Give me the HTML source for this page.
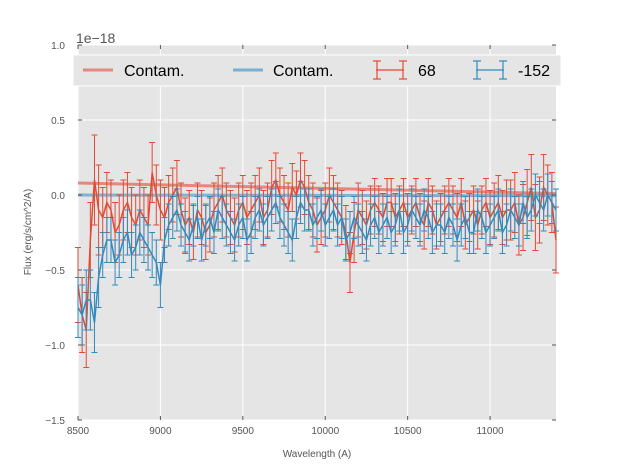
<!DOCTYPE html>
<html><head><meta charset="utf-8"><style>
body{margin:0;background:#fff}
svg text{font-family:"Liberation Sans","DejaVu Sans",sans-serif}
</style></head><body>
<svg id="c" width="617" height="467" xmlns="http://www.w3.org/2000/svg">
<rect x="78" y="45" width="478" height="375" fill="#e5e5e5"/>
<g id="grid"></g>
<g id="series"></g>
<g id="axes"></g>
<text x="76" y="43" font-size="14" fill="#555">1e−18</text>
<text x="317" y="457" font-size="10" fill="#555" text-anchor="middle">Wavelength (A)</text>
<text transform="translate(31,232) rotate(-90)" font-size="10" fill="#555" text-anchor="middle">Flux (erg/s/cm^2/A)</text>
<g>
<rect x="73" y="55" width="488" height="31" fill="#e5e5e5" stroke="#fff" stroke-width="1"/>
<line x1="83" y1="70" x2="113" y2="70" stroke="#e24a33" stroke-opacity="0.6" stroke-width="3"/>
<text x="124" y="76" font-size="16" fill="#000">Contam.</text>
<line x1="233" y1="70" x2="263" y2="70" stroke="#348abd" stroke-opacity="0.6" stroke-width="3"/>
<text x="273" y="76" font-size="16" fill="#000">Contam.</text>
<g stroke="#e24a33" stroke-width="1.2"><line x1="376" y1="70" x2="404" y2="70"/><line x1="377" y1="61" x2="377" y2="79"/><line x1="403" y1="61" x2="403" y2="79"/><line x1="373" y1="61" x2="381" y2="61"/><line x1="373" y1="79" x2="381" y2="79"/><line x1="399" y1="61" x2="407" y2="61"/><line x1="399" y1="79" x2="407" y2="79"/></g>
<text x="418" y="76" font-size="16" fill="#000">68</text>
<g stroke="#348abd" stroke-width="1.2"><line x1="476" y1="70" x2="504" y2="70"/><line x1="477" y1="61" x2="477" y2="79"/><line x1="503" y1="61" x2="503" y2="79"/><line x1="473" y1="61" x2="481" y2="61"/><line x1="473" y1="79" x2="481" y2="79"/><line x1="499" y1="61" x2="507" y2="61"/><line x1="499" y1="79" x2="507" y2="79"/></g>
<text x="518" y="76" font-size="16" fill="#000">-152</text>
</g>
</svg>
<script>
const waveStart=8500;
const waveEnd=11400;
const flux68=[-0.6,-0.8,-0.9,-0.3,0.1,-0.1,-0.15,-0.05,-0.1,-0.25,-0.2,-0.1,-0.05,-0.15,-0.2,-0.1,-0.15,-0.2,0.15,0.0,-0.1,-0.15,-0.05,0.0,0.05,-0.1,-0.2,-0.15,-0.25,-0.1,-0.15,-0.25,-0.2,-0.1,-0.05,0.0,-0.1,-0.15,-0.2,-0.1,-0.05,-0.15,-0.1,-0.05,0.0,-0.15,-0.1,0.05,0.1,0.0,-0.05,-0.1,0.05,0.0,0.1,0.05,-0.05,-0.1,-0.2,-0.15,-0.1,0.0,-0.05,-0.1,-0.15,-0.25,-0.45,-0.25,-0.1,-0.15,-0.2,-0.1,-0.05,-0.1,-0.15,-0.05,-0.05,-0.15,-0.1,-0.05,-0.15,-0.1,-0.05,-0.15,-0.2,-0.05,-0.1,-0.2,-0.15,-0.1,-0.05,-0.1,-0.15,-0.05,-0.2,-0.15,-0.1,-0.2,-0.1,-0.05,-0.15,-0.1,-0.05,-0.15,-0.1,-0.1,-0.05,-0.2,-0.15,-0.05,0.05,-0.15,-0.1,0.05,0.0,-0.05,-0.3];
const err68=[0.25,0.25,0.3,0.2,0.2,0.2,0.2,0.2,0.2,0.2,0.2,0.18,0.18,0.18,0.18,0.18,0.18,0.18,0.18,0.18,0.18,0.18,0.18,0.18,0.18,0.18,0.16,0.18,0.18,0.18,0.18,0.18,0.18,0.2,0.18,0.16,0.16,0.16,0.16,0.16,0.16,0.16,0.16,0.16,0.16,0.16,0.16,0.16,0.16,0.16,0.18,0.18,0.2,0.2,0.22,0.22,0.22,0.2,0.22];
const flux152=[-0.75,-0.8,-0.7,-0.7,-0.85,-0.55,-0.4,-0.3,-0.3,-0.45,-0.4,-0.3,-0.25,-0.4,-0.35,-0.25,-0.3,-0.35,-0.4,-0.45,-0.6,-0.3,-0.2,-0.15,-0.1,-0.2,-0.25,-0.3,-0.2,-0.15,-0.3,-0.2,-0.15,-0.25,-0.1,-0.15,-0.2,-0.25,-0.3,-0.2,-0.15,-0.3,-0.25,-0.15,-0.1,-0.2,-0.15,-0.1,-0.05,-0.15,-0.2,-0.25,-0.3,-0.15,-0.05,-0.1,-0.1,-0.2,-0.15,-0.1,-0.2,-0.15,-0.1,-0.2,-0.15,-0.3,-0.25,-0.15,-0.2,-0.25,-0.3,-0.2,-0.15,-0.25,-0.2,-0.15,-0.25,-0.2,-0.1,-0.25,-0.2,-0.1,-0.15,-0.2,-0.1,-0.15,-0.25,-0.2,-0.2,-0.25,-0.15,-0.2,-0.3,-0.2,-0.15,-0.25,-0.25,-0.1,-0.15,-0.25,-0.2,-0.15,-0.1,-0.25,-0.2,-0.1,-0.15,-0.2,-0.05,-0.15,-0.1,0.0,-0.05,-0.1,0.0,-0.05,-0.1];
const err152=[0.2,0.2,0.2,0.15,0.15,0.15,0.15,0.15,0.15,0.15,0.15,0.14,0.14,0.14,0.14,0.14,0.14,0.14,0.14,0.14,0.14,0.14,0.14,0.14,0.14,0.14,0.14,0.14,0.14,0.14,0.14,0.14,0.14,0.14,0.14,0.14,0.14,0.14,0.14,0.14,0.14,0.14,0.14,0.14,0.14,0.14,0.14,0.14,0.14,0.14,0.14,0.14,0.14,0.14,0.14,0.14,0.14,0.14,0.14];
const contamWave=[8500,11400];
const contam68=[0.08,0.01];
const contam152=[0.0,-0.005];
const xTicks=[8500,9000,9500,10000,10500,11000];
const yTicks=[1.0,0.5,0.0,-0.5,-1.0,-1.5];
const yTickLabels=["1.0","0.5","0.0","−0.5","−1.0","−1.5"];

const NS="http://www.w3.org/2000/svg";
const X0=78,X1=556,Y0=45,Y1=420,XMIN=8500,XMAX=11400,YMIN=-1.5,YMAX=1.0;
const sx=v=>X0+(v-XMIN)/(XMAX-XMIN)*(X1-X0);
const sy=v=>Y1-(v-YMIN)/(YMAX-YMIN)*(Y1-Y0);
function mk(tag,attrs,parent){const e=document.createElementNS(NS,tag);for(const k in attrs)e.setAttribute(k,attrs[k]);parent.appendChild(e);return e;}
const grid=document.getElementById('grid'),axes=document.getElementById('axes'),ser=document.getElementById('series');
xTicks.forEach(t=>{
 const g=mk('line',{x1:sx(t),x2:sx(t),y1:Y0,y2:Y1,stroke:'#fff','stroke-width':1},grid);
 
 
 mk('line',{x1:sx(t),x2:sx(t),y1:Y1,y2:Y1-4,stroke:'#555'},axes);
 mk('line',{x1:sx(t),x2:sx(t),y1:Y0,y2:Y0+4,stroke:'#555'},axes);
 const l=mk('text',{x:sx(t),y:Y1+14,'font-size':10,fill:'#555','text-anchor':'middle'},axes);
 l.textContent=t;
 
 
});
yTicks.forEach((t,i)=>{
 const g=mk('line',{x1:X0,x2:X1,y1:sy(t),y2:sy(t),stroke:'#fff','stroke-width':1},grid);
 
 
 mk('line',{x1:X0,x2:X0+4,y1:sy(t),y2:sy(t),stroke:'#555'},axes);
 mk('line',{x1:X1,x2:X1-4,y1:sy(t),y2:sy(t),stroke:'#555'},axes);
 const l=mk('text',{x:X0-13,y:sy(t)+4,'font-size':10,fill:'#555','text-anchor':'end'},axes);
 l.textContent=yTickLabels[i];
 
 
});
function contam(vals,color,name){
 const l=mk('line',{x1:sx(contamWave[0]),y1:sy(vals[0]),x2:sx(contamWave[1]),y2:sy(vals[1]),stroke:color,'stroke-opacity':0.6,'stroke-width':3},ser);
 
 
}
function errSeries(vals,errs,color,name){
 const g=mk('g',{stroke:color,'stroke-width':1,fill:'none'},ser);
 
 
 const n=vals.length,step=(waveEnd-waveStart)/(n-1);
 const pts=[];
 vals.forEach((v,i)=>{
  const w=waveStart+i*step,x=sx(w),e=errs[Math.min(errs.length-1,Math.floor(i*errs.length/n))];
  const a=sy(v+e),b=sy(v-e);
  mk('line',{x1:x,x2:x,y1:a,y2:b},g);
  mk('line',{x1:x-3,x2:x+3,y1:a,y2:a},g);
  mk('line',{x1:x-3,x2:x+3,y1:b,y2:b},g);
  pts.push(x+','+sy(v));
 });
 mk('polyline',{points:pts.join(' '),'stroke-width':1.5},g);
}
contam(contam68,'#e24a33','contam-68-line');
contam(contam152,'#348abd','contam-152-line');
errSeries(flux68,err68,'#e24a33','series-68');
errSeries(flux152,err152,'#348abd','series-152');
</script>
</body></html>
